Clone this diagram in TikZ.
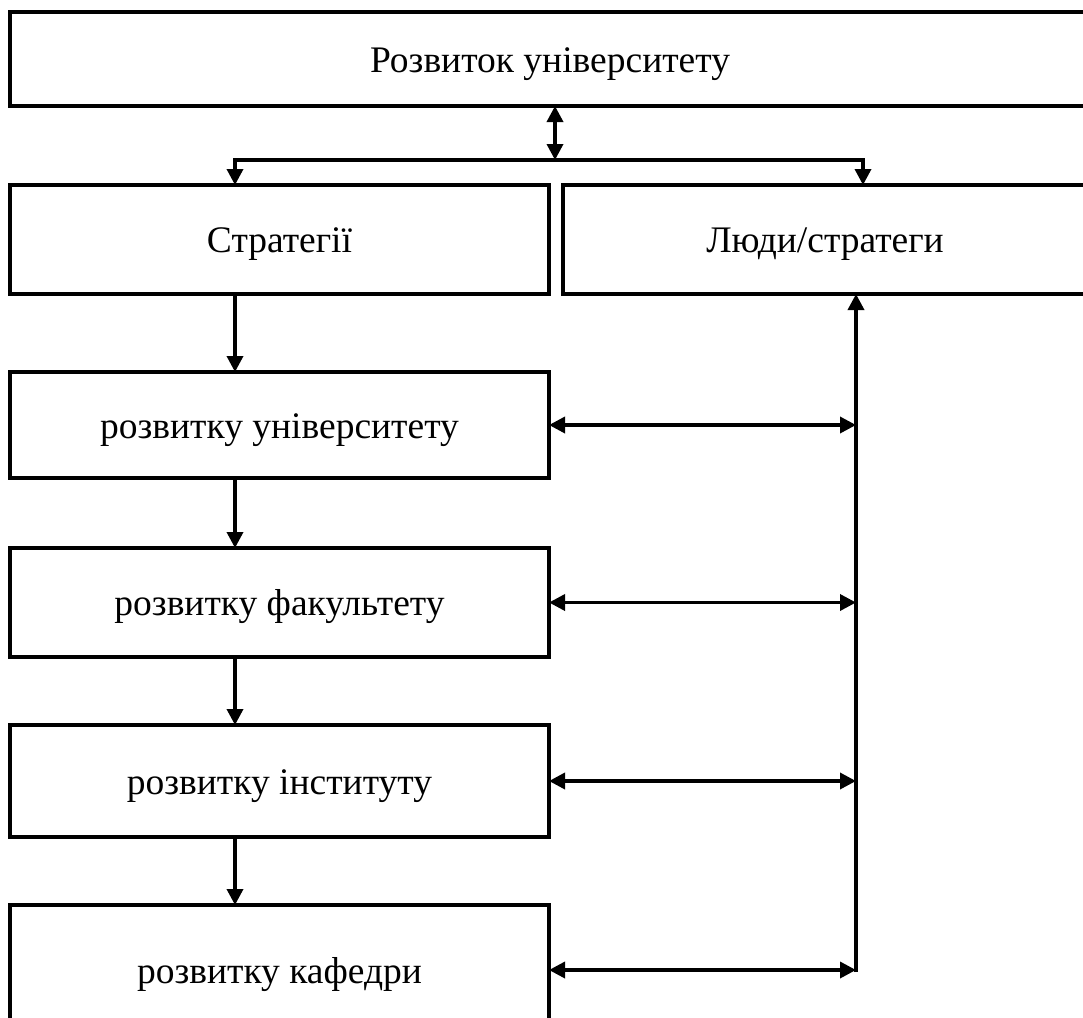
\documentclass[tikz,border=0pt]{standalone}
\usepackage{fontspec}
\setmainfont{Liberation Serif}
\usepackage{tikz}
\usetikzlibrary{shapes,arrows.meta,positioning}
\tikzstyle{block} = [rectangle, draw=black, line width=4pt, fill=white, text=black, text centered, font=\fontsize{37.5}{44}\selectfont, minimum width=539pt, minimum height=109pt, inner sep=0pt, outer sep=0pt, text height=29pt, text depth=3pt]
\tikzstyle{tedge}  = [draw, line width=3.5pt, >={Triangle[length=16pt,width=16pt]}, ->]
\tikzstyle{dedge}  = [draw, line width=3.5pt, >={Triangle[length=16pt,width=16pt]}, <->]

\begin{document}
\begin{tikzpicture}[x=1pt,y=-1pt]
\useasboundingbox (0,0) rectangle (1083,1017);
\clip (0,0) rectangle (1083,1017);

% top level =============================
\node[block, minimum width=1080pt, minimum height=94pt] (univ) at (550,59) {Розвиток університету};
\node[block] (strat) at (279.5,239.5) {Стратегії};
\node[block, minimum width=524pt] (people) at (825,239.5) {Люди/стратеги};

% strategy levels =============================
\node[block, minimum height=106pt, below=78pt of strat] (lvluniv) {розвитку університету};
\node[block, minimum height=109pt, below=70pt of lvluniv] (lvlfac) {розвитку факультету};
\node[block, minimum height=112pt, below=68pt of lvlfac] (lvlinst) {розвитку інституту};
\node[block, minimum height=130pt, below=68pt of lvlinst] (lvlkaf) {розвитку кафедри};

\coordinate (split) at (555,160);
\coordinate (lbranch) at (235,160);
\coordinate (rbranch) at (863,160);
\coordinate (rail) at (856,972);

% edges
\path[dedge] (univ.south -| split) -- (split);
\draw[tedge] (split) -| (strat.north -| lbranch);
\draw[tedge] (split) -| (people.north -| rbranch);

\path[tedge] (strat.south -| lbranch) -- (lvluniv.north -| lbranch);
\path[tedge] (lvluniv.south -| lbranch) -- (lvlfac.north -| lbranch);
\path[tedge] (lvlfac.south -| lbranch) -- (lvlinst.north -| lbranch);
\path[tedge] (lvlinst.south -| lbranch) -- (lvlkaf.north -| lbranch);

\path[tedge] (rail) -- (people.south -| rail);
\path[dedge] (lvluniv.east) -- (lvluniv.east -| rail);
\path[dedge] (lvlfac.east) -- (lvlfac.east -| rail);
\path[dedge] (lvlinst.east) -- (lvlinst.east -| rail);
\path[dedge] (lvlkaf.east) -- (lvlkaf.east -| rail);

\end{tikzpicture}
\end{document}
